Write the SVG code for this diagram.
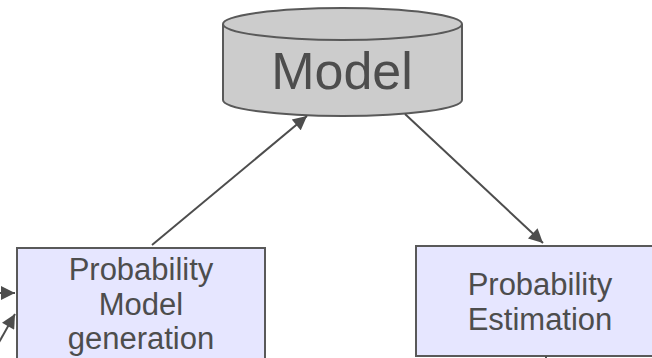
<svg xmlns="http://www.w3.org/2000/svg" width="652" height="358" viewBox="0 0 652 358">
  <style>
    .box { fill: #e6e6ff; stroke: #595959; stroke-width: 2; }
    .cyl { fill: #cccccc; stroke: #595959; stroke-width: 2; }
    .lbl { font-family: "Liberation Sans", Arial, sans-serif; fill: #4d4d4d; text-anchor: middle; }
    .edge { fill: none; stroke: #4d4d4d; stroke-width: 2; }
  </style>
  <defs>
    <marker id="arrow" viewBox="0 0 10 10" refX="10" refY="5" markerWidth="8" markerHeight="7" markerUnits="strokeWidth" orient="auto">
      <path d="M0,0 L10,5 L0,10 z" fill="#4d4d4d"/>
    </marker>
  </defs>

  <rect width="652" height="358" fill="#ffffff"/>

  <!-- Model store -->
  <g id="model">
    <path class="cyl" d="M223,24 L223,100 A119.5,16 0 0 0 462,100 L462,24"/>
    <ellipse class="cyl" cx="342.5" cy="24" rx="119.5" ry="16"/>
    <text class="lbl" x="342" y="89" font-size="52">Model</text>
  </g>

  <!-- Probability Model generation -->
  <g id="generation">
    <rect class="box" x="17" y="248" width="248" height="130"/>
    <text class="lbl" x="141" y="280" font-size="31">Probability</text>
    <text class="lbl" x="141" y="315" font-size="31">Model</text>
    <text class="lbl" x="141" y="349" font-size="31">generation</text>
  </g>

  <!-- Probability Estimation -->
  <g id="estimation">
    <rect class="box" x="416" y="246" width="248" height="110"/>
    <text class="lbl" x="540" y="295" font-size="31">Probability</text>
    <text class="lbl" x="540" y="330" font-size="31">Estimation</text>
  </g>

  <!-- connectors -->
  <g id="connectors">
    <line class="edge" x1="152" y1="245" x2="307" y2="116" marker-end="url(#arrow)"/>
    <line class="edge" x1="405" y1="114" x2="543" y2="243" marker-end="url(#arrow)"/>
    <line class="edge" x1="-10" y1="293" x2="15" y2="293" marker-end="url(#arrow)"/>
    <line class="edge" x1="-2" y1="344" x2="15" y2="314" marker-end="url(#arrow)"/>
    <line class="edge" x1="546" y1="356" x2="546" y2="370"/>
  </g>
</svg>
